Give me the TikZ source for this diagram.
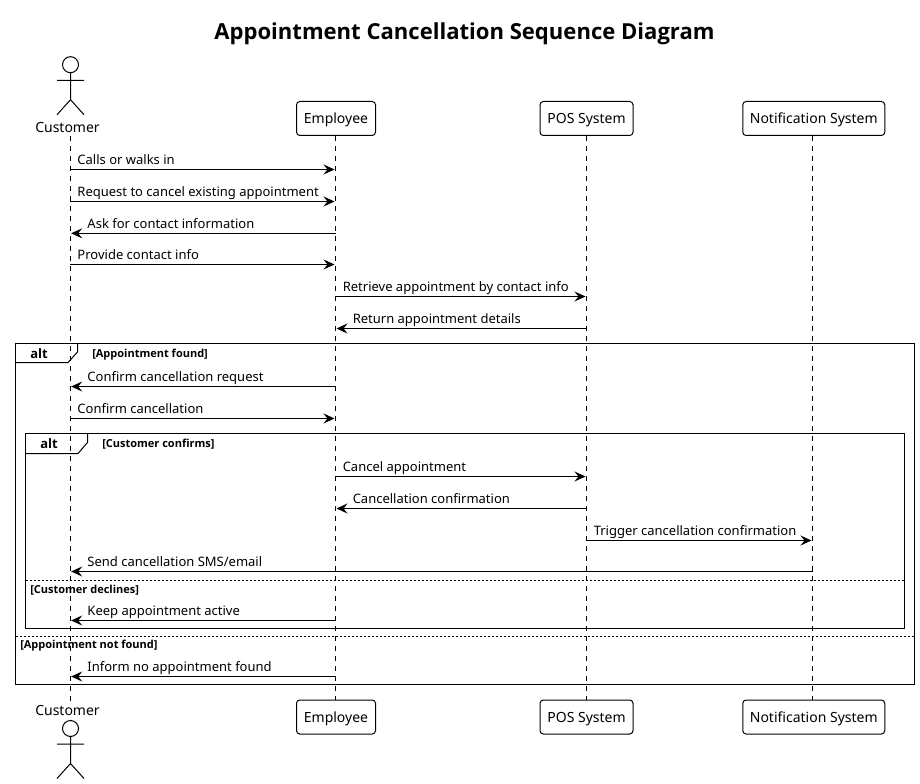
\documentclass[tikz,border=0pt]{standalone}
\usepackage{fontspec}
\setmainfont{Noto Sans}
\newfontfamily\boldfam{Open Sans}
\usetikzlibrary{arrows.meta}
\tikzset{
  x=0.75pt, y=-0.75pt,
  participant/.style={draw=black, line width=0.75pt, rounded corners=2.5pt, fill=white, inner sep=0pt, minimum height=25.5pt, text height=16.5pt, text depth=9pt, font=\fontsize{10.5pt}{12pt}\selectfont},
  actorname/.style={anchor=base, inner sep=0pt, font=\fontsize{10.5pt}{12pt}\selectfont},
  lifeline/.style={draw=black, line width=0.75pt, dash pattern=on 3.75pt off 3.75pt},
  msg/.style={draw=black, line width=0.75pt, -{Stealth[length=8.25pt,width=7.5pt,inset=3pt]}, shorten >=0.75pt},
  msglabel/.style={anchor=base west, inner sep=0pt, font=\fontsize{9.75pt}{12pt}\selectfont},
  frameline/.style={draw=black, line width=0.75pt},
  sepline/.style={draw=black, line width=0.75pt, dash pattern=on 1.5pt off 1.5pt},
  alttag/.style={anchor=base west, inner sep=0pt, font=\boldfam\bfseries\fontsize{9.75pt}{12pt}\selectfont},
  guardtext/.style={anchor=base west, inner sep=0pt, font=\boldfam\bfseries\fontsize{8.25pt}{10pt}\selectfont},
  actorbody/.style={draw=black, line width=0.75pt}
}
\newcommand{\actorfig}[1]{%
  \draw[actorbody] (70.5,#1) circle[radius=8];
  \draw[actorbody] (70.5,#1+8) -- (70.5,#1+35) (57,#1+15.7) -- (84,#1+15.7) (57,#1+50) -- (70.5,#1+35) -- (84,#1+50);
}
\newcommand{\msgR}[5]{% name, from, to, y, text
  \coordinate (#1s) at (#2.south |- 0,#4);
  \coordinate (#1e) at (#3.south |- 0,#4);
  \draw[msg] (#1s) -- (#1e);
  \node[msglabel] (#1t) at ([xshift=5.25pt,yshift=3.75pt]#1s) {#5};
}
\newcommand{\msgL}[5]{% name, from, to, y, text
  \coordinate (#1s) at (#2.south |- 0,#4);
  \coordinate (#1e) at (#3.south |- 0,#4);
  \draw[msg] (#1s) -- (#1e);
  \node[msglabel] (#1t) at ([xshift=12.75pt,yshift=3.75pt]#1e) {#5};
}
\begin{document}
\begin{tikzpicture}
\useasboundingbox[fill=white] (0,0) rectangle (920,784);
\node[anchor=base, inner sep=0pt, font=\boldfam\bfseries\fontsize{16.55pt}{20pt}\selectfont] (title) at (464.5,40) {Appointment Cancellation Sequence Diagram};

% top participants
\coordinate (custT) at (70.2,136);
\coordinate (custB) at (70.2,701);
\node[participant, minimum width=59.25pt] (empT) at (336,118.5) {Employee};
\node[participant, minimum width=69.75pt] (posT) at (586.5,118.5) {POS System};
\node[participant, minimum width=106.5pt] (notT) at (813.75,118.5) {Notification System};
\node[participant, minimum width=59.25pt] (empB) at (336,717) {Employee};
\node[participant, minimum width=69.75pt] (posB) at (586.5,717) {POS System};
\node[participant, minimum width=106.5pt] (notB) at (813.75,717) {Notification System};
\coordinate (empL) at (335.5,136);
\coordinate (posL) at (586.5,136);
\coordinate (notL) at (812.5,136);
\coordinate (empM) at (335.5,700);
\coordinate (posM) at (586.5,700);
\coordinate (notM) at (812.5,700);

\draw[lifeline] (custT) -- (custB);
\draw[lifeline] (empL) -- (empM);
\draw[lifeline] (posL) -- (posM);
\draw[lifeline] (notL) -- (notM);

% actors
\actorfig{64.7}
\actorfig{728.5}
\node[actorname] (custTopLabel) at (67.5,133) {Customer};
\node[actorname] (custBotLabel) at (67.5,715) {Customer};

% messages
\msgR{a}{custT}{empL}{169.5}{Calls or walks in}
\msgR{b}{custT}{empL}{201.5}{Request to cancel existing appointment}
\msgL{c}{empL}{custT}{233.3}{Ask for contact information}
\msgR{d}{custT}{empL}{264.5}{Provide contact info}
\msgR{e}{empL}{posL}{296.5}{Retrieve appointment by contact info}
\msgL{f}{posL}{empL}{328.5}{Return appointment details}
\msgL{g}{empL}{custT}{386.5}{Confirm cancellation request}
\msgR{h}{custT}{empL}{418.5}{Confirm cancellation}
\msgR{i}{empL}{posL}{476.5}{Cancel appointment}
\msgL{j}{posL}{empL}{508.5}{Cancellation confirmation}
\msgR{k}{posL}{notL}{540.5}{Trigger cancellation confirmation}
\msgL{l}{notL}{custT}{571.5}{Send cancellation SMS/email}
\msgL{m}{empL}{custT}{620.5}{Keep appointment active}
\msgL{n}{empL}{custT}{676.5}{Inform no appointment found}

% outer alt
\draw[frameline] (15.5,343.5) rectangle (914.5,684.5);
\draw[frameline] (77.5,343.5) -- (77.5,352) -- (68,362.5) -- (15.5,362.5);
\node[alttag] (altA) at (30,358) {alt};
\node[guardtext] (guardA) at (92,357) {[Appointment found]};
\draw[sepline] (15.5,636.5) -- (914.5,636.5);
\node[guardtext] (guardB) at (20,648) {[Appointment not found]};

% inner alt
\draw[frameline] (25.5,433.5) rectangle (904.5,628.5);
\draw[frameline] (87.5,433.5) -- (87.5,442.5) -- (78,453.5) -- (25.5,453.5);
\node[alttag] (altB) at (40,448) {alt};
\node[guardtext] (guardC) at (102,447) {[Customer confirms]};
\draw[sepline] (25.5,580.5) -- (904.5,580.5);
\node[guardtext] (guardD) at (30,593) {[Customer declines]};
\end{tikzpicture}
\end{document}
